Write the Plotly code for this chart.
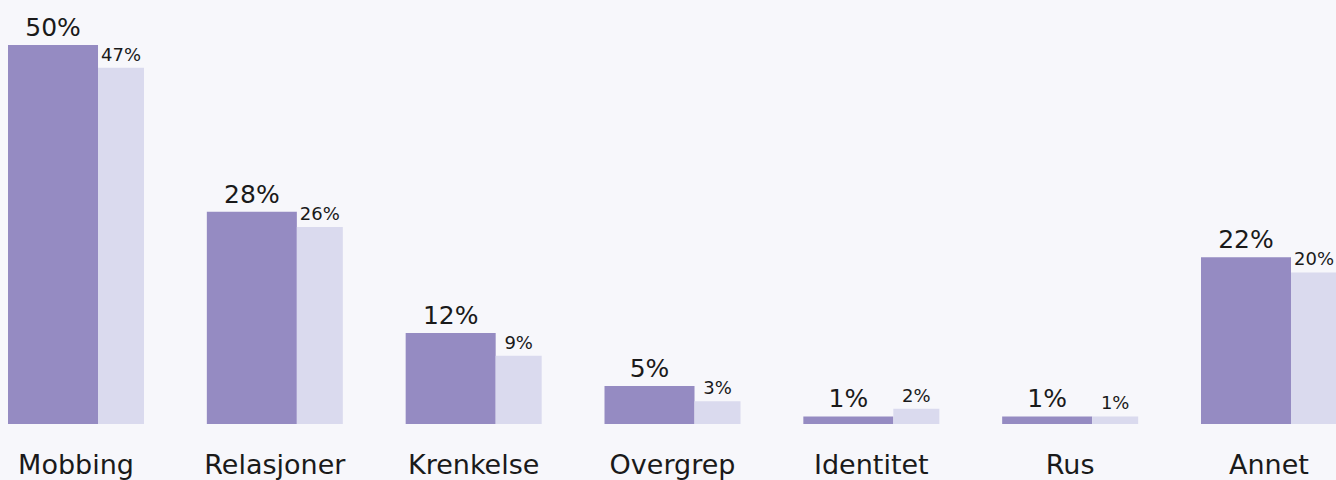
import plotly.graph_objects as go

categories = ["Mobbing", "Relasjoner", "Krenkelse", "Overgrep", "Identitet", "Rus", "Annet"]
series_a = [50, 28, 12, 5, 1, 1, 22]
series_b = [47, 26, 9, 3, 2, 1, 20]
labels_a = [f"{v}%" for v in series_a]
labels_b = [f"{v}%" for v in series_b]

DARK = "#958BC2"
LIGHT = "#DADAEE"
BG = "#F7F7FB"
TXT = "#1A1A1A"
FONT = "DejaVu Sans, sans-serif"

fig = go.Figure()
fig.add_trace(go.Bar(
    x=categories, y=series_a, text=labels_a, textposition="outside",
    textfont=dict(size=25, color=TXT, family=FONT), constraintext="none",
    marker=dict(color=DARK, line=dict(width=0)), width=0.4527, offset=-0.342,
    cliponaxis=False, hoverinfo="skip",
))
fig.add_trace(go.Bar(
    x=categories, y=series_b, text=labels_b, textposition="outside",
    textfont=dict(size=18, color=TXT, family=FONT), constraintext="none",
    marker=dict(color=LIGHT, line=dict(width=0)), width=0.2313, offset=0.1107,
    cliponaxis=False, hoverinfo="skip",
))

fig.update_layout(
    width=1336, height=480,
    margin=dict(l=0, r=0, t=0, b=56),
    paper_bgcolor=BG, plot_bgcolor=BG,
    barmode="overlay", showlegend=False,
    font=dict(family=FONT, color=TXT),
    xaxis=dict(type="category", range=[-0.3823, 6.337], showgrid=False, zeroline=False,
               showline=False, ticks="", ticklabelstandoff=22, automargin=False,
               tickfont=dict(size=27, color=TXT, family=FONT)),
    yaxis=dict(range=[0, 55.94], visible=False, showgrid=False, zeroline=False,
               automargin=False),
)

fig.write_html(
    "out.html",
    config={"displayModeBar": False},
    post_script="document.body.style.margin='0';document.body.style.background='#F7F7FB';",
)
